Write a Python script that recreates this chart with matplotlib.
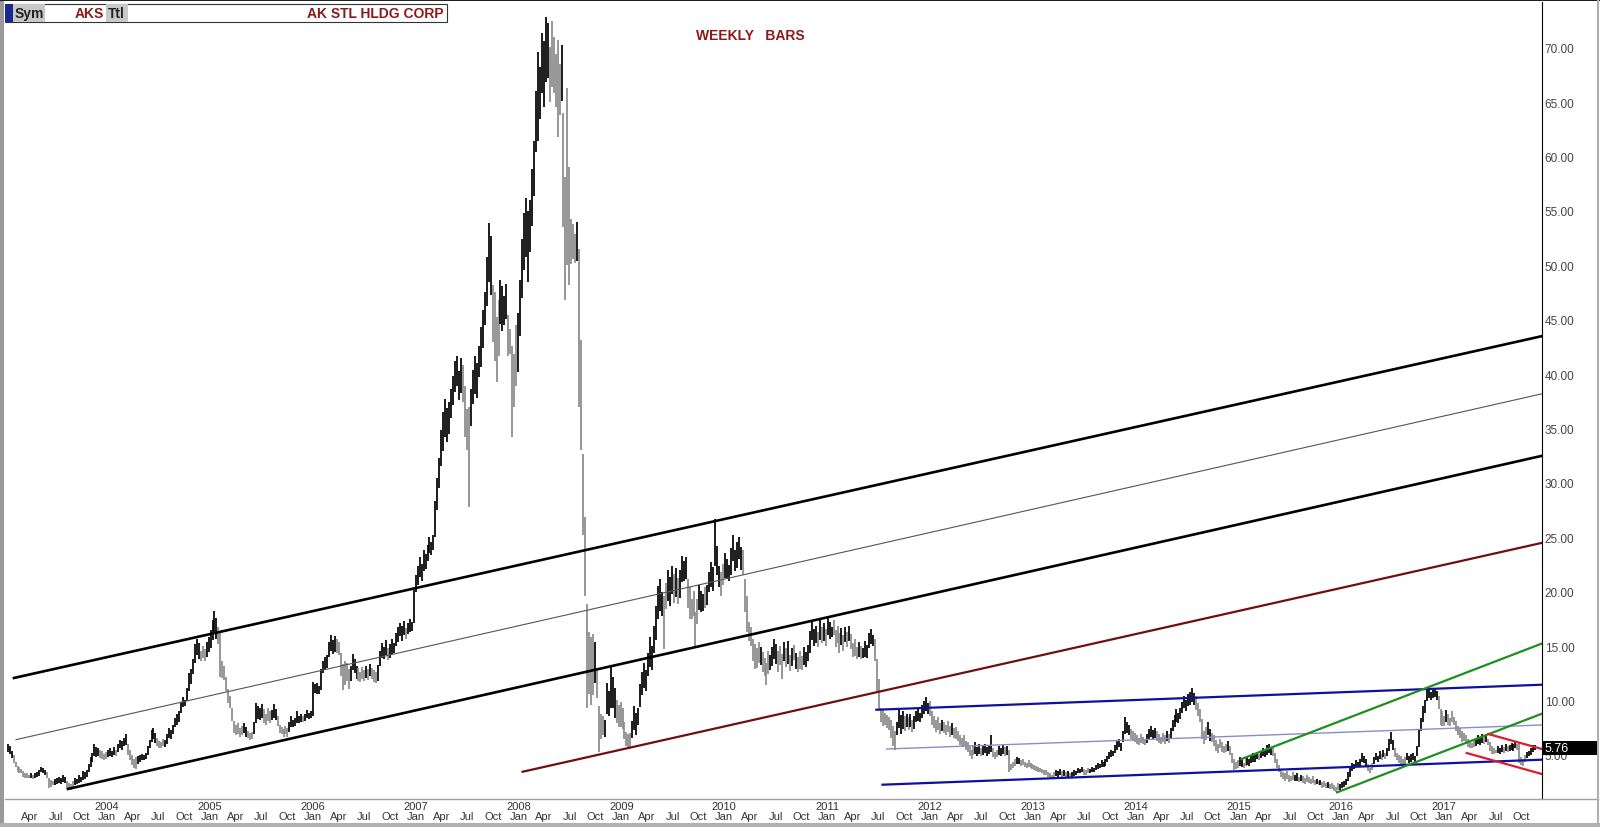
import numpy as np
import pandas as pd
import matplotlib
matplotlib.use('Agg')
import matplotlib.pyplot as plt
from matplotlib.patches import Rectangle
from matplotlib.lines import Line2D

# 주간 고가 / 저가
hi_2003 = [6.0, 5.8, 5.4, 5.0, 4.4, 4.0, 3.9, 3.7, 3.5, 3.3, 3.3, 3.2, 3.3, 3.2, 3.3, 3.4, 3.6, 3.9, 3.8, 3.6,
           3.4, 2.9, 2.7, 2.6, 2.8, 2.9, 3.0, 2.9, 3.2, 3.0, 2.6, 2.4, 2.3, 2.6, 2.9, 2.8, 3.2, 3.0, 3.5, 3.4,
           3.6, 4.2, 4.8, 5.2, 6.0, 5.7, 5.6, 5.5, 5.4, 5.1]
lo_2003 = [5.3, 5.1, 4.7, 4.3, 3.9, 3.4, 3.3, 3.3, 3.0, 2.9, 2.9, 2.9, 2.9, 2.8, 2.9, 3.0, 3.1, 3.4, 3.3, 3.2,
           2.9, 2.0, 2.1, 2.2, 2.2, 2.3, 2.4, 2.3, 2.5, 2.4, 2.0, 1.8, 1.8, 1.9, 2.2, 2.3, 2.4, 2.5, 2.7, 2.8,
           3.0, 3.4, 3.9, 4.4, 4.9, 4.8, 4.9, 4.7, 4.6, 4.5]
hi_2004 = [5.3, 5.5, 5.6, 5.4, 5.7, 5.5, 6.0, 6.4, 6.3, 6.6, 6.9, 6.0, 5.5, 5.0, 4.6, 4.8, 4.9, 5.0, 5.1, 5.0,
           5.2, 5.8, 6.4, 7.3, 7.5, 7.0, 6.6, 6.3, 6.2, 6.5, 6.4, 6.9, 7.5, 7.3, 7.8, 8.4, 8.8, 9.0, 9.9, 10.3,
           10.1, 11.2, 12.5, 12.9, 13.8, 15.2, 15.7, 15.3, 14.6, 15.0, 14.7, 15.4, 15.8]
lo_2004 = [4.6, 4.8, 4.9, 4.8, 5.0, 4.9, 5.3, 5.6, 5.5, 5.8, 5.9, 5.0, 4.5, 4.1, 3.8, 3.7, 4.2, 4.4, 4.5, 4.5,
           4.6, 5.0, 5.6, 6.2, 6.5, 6.1, 5.8, 5.6, 5.6, 5.8, 5.7, 6.0, 6.6, 6.5, 6.9, 7.6, 7.8, 8.0, 8.9, 9.4,
           9.5, 10.0, 10.9, 11.5, 12.4, 13.5, 14.2, 13.8, 13.6, 13.9, 13.6, 14.0, 14.5]
hi_2005 = [16.5, 17.4, 18.2, 17.6, 16.8, 16.3, 13.6, 13.2, 12.2, 11.1, 10.4, 9.3, 8.1, 7.8, 7.9, 7.5, 7.7, 7.9,
           7.6, 7.2, 7.0, 7.1, 8.0, 9.8, 9.5, 9.3, 9.7, 9.2, 8.8, 9.3, 9.0, 9.1, 9.7, 9.2, 8.6, 7.8, 7.6, 7.4,
           7.7, 7.5, 8.0, 8.6, 8.2, 8.4, 9.0, 8.6, 8.8, 8.6, 8.8, 9.1, 8.9, 9.0]
lo_2005 = [14.8, 15.6, 16.2, 15.7, 15.2, 12.2, 12.1, 11.9, 10.9, 9.8, 9.3, 8.1, 7.0, 6.8, 6.9, 6.7, 6.8, 7.0,
           6.7, 6.6, 6.4, 6.5, 6.9, 7.9, 8.3, 8.2, 8.4, 7.9, 7.8, 8.1, 7.9, 8.2, 8.4, 8.2, 7.7, 7.0, 6.9, 6.7,
           6.9, 6.7, 7.1, 7.6, 7.6, 7.7, 7.9, 7.9, 8.0, 8.0, 8.1, 8.4, 8.3, 8.4]
hi_2006 = [11.7, 11.5, 11.6, 11.3, 12.9, 13.6, 14.0, 14.2, 15.4, 16.0, 15.6, 15.9, 15.7, 15.4, 14.4, 13.4, 13.6,
           13.5, 12.9, 13.2, 14.3, 13.8, 13.2, 13.0, 12.6, 13.1, 12.8, 13.2, 12.9, 13.4, 13.0, 12.8, 12.6, 13.3,
           14.6, 15.3, 14.9, 15.6, 14.8, 15.2, 15.7, 15.3, 16.2, 16.8, 17.1, 16.9, 17.3, 16.7, 17.1, 17.5, 17.2, 20.2]
lo_2006 = [8.6, 10.7, 10.6, 10.6, 11.0, 12.5, 12.8, 13.0, 14.0, 14.6, 14.3, 14.5, 14.4, 14.2, 12.3, 11.0, 11.4,
           11.8, 11.1, 11.8, 12.8, 12.5, 12.0, 11.8, 11.7, 12.0, 11.8, 12.1, 11.9, 12.3, 12.0, 11.7, 11.6, 11.8,
           13.2, 13.9, 13.8, 14.2, 13.7, 13.9, 14.3, 14.4, 15.0, 15.4, 15.9, 15.5, 16.0, 15.7, 16.1, 16.3, 16.4, 17.1]
hi_2007 = [21.5, 22.4, 23.2, 22.6, 23.8, 23.5, 24.3, 25.0, 24.6, 25.2, 28.3, 30.5, 32.3, 34.9, 36.5, 37.7, 36.9,
           37.4, 38.6, 39.8, 41.2, 41.7, 40.3, 41.5, 40.8, 38.9, 36.8, 37.0, 38.6, 40.4, 41.7, 41.0, 42.6, 44.3,
           45.9, 47.6, 50.8, 53.9, 52.7, 48.2, 47.6, 45.3, 46.8, 48.7, 48.1, 47.2, 48.3, 45.4, 44.2, 42.6, 41.9, 44.5]
lo_2007 = [20.0, 20.6, 21.4, 21.0, 21.9, 22.1, 22.8, 23.6, 23.4, 23.8, 25.0, 27.5, 29.5, 31.6, 32.9, 34.2, 33.8,
           34.5, 36.0, 37.2, 38.4, 38.9, 37.6, 38.3, 37.4, 34.2, 33.0, 27.8, 35.2, 37.3, 38.2, 37.8, 39.7, 40.7,
           42.4, 44.5, 46.3, 48.5, 47.3, 43.0, 41.2, 39.3, 41.7, 44.6, 44.0, 44.5, 45.1, 41.7, 41.9, 34.2, 37.0, 38.9]
hi_2008 = [45.6, 48.7, 52.4, 54.8, 56.2, 55.0, 56.0, 58.9, 61.4, 66.0, 69.6, 68.2, 71.4, 70.6, 72.8, 72.3, 70.1,
           72.5, 71.0, 69.4, 70.7, 68.5, 70.3, 64.0, 58.1, 66.3, 59.0, 54.3, 53.8, 52.9, 54.0, 51.5, 43.1, 32.7,
           26.9, 18.9, 16.3, 15.8, 16.1, 15.4, 13.0, 9.5, 8.8, 8.6, 8.2, 11.6, 10.9, 13.1, 12.2, 11.2, 10.1, 9.6]
lo_2008 = [40.2, 43.5, 47.0, 49.6, 50.8, 48.5, 51.2, 53.6, 56.4, 60.4, 61.4, 63.5, 65.8, 64.6, 66.9, 67.2, 65.0,
           66.4, 65.8, 64.6, 61.8, 63.8, 65.1, 53.5, 46.8, 50.0, 48.2, 50.1, 50.6, 50.2, 50.4, 37.0, 33.0, 25.2,
           19.6, 9.3, 10.6, 9.6, 10.5, 11.6, 10.2, 5.3, 6.5, 6.8, 6.7, 8.8, 8.6, 9.3, 9.3, 8.4, 7.9, 7.6]
hi_2009 = [9.9, 9.3, 8.0, 7.1, 6.9, 7.0, 8.1, 9.5, 8.9, 9.3, 11.5, 12.6, 13.5, 12.8, 14.4, 15.8, 15.0, 16.9, 18.7,
           20.5, 21.2, 20.0, 19.6, 20.8, 22.0, 21.4, 22.4, 21.6, 22.2, 21.3, 22.0, 23.3, 22.8, 23.2, 21.2, 20.4,
           19.3, 20.1, 18.1, 19.3, 20.6, 20.1, 19.8, 20.4, 20.6, 21.8, 22.7, 22.3, 26.7, 24.2, 22.4, 21.8]
lo_2009 = [7.6, 7.4, 6.5, 5.8, 5.6, 5.7, 6.6, 7.3, 6.8, 7.8, 9.4, 10.5, 11.2, 10.9, 12.3, 13.1, 12.8, 14.4, 15.6,
           17.5, 18.2, 17.8, 14.7, 18.4, 19.2, 18.7, 19.8, 19.0, 19.5, 18.9, 19.4, 20.9, 21.0, 21.2, 18.5, 17.5,
           17.5, 17.8, 15.0, 17.0, 18.3, 18.1, 18.2, 18.5, 18.8, 20.0, 20.4, 20.1, 22.4, 21.5, 20.4, 19.6]
hi_2010 = [22.6, 23.6, 23.0, 22.5, 24.0, 25.2, 23.8, 24.6, 25.0, 24.1, 23.8, 21.2, 19.6, 17.2, 16.8, 15.7, 15.2,
           14.8, 15.4, 14.9, 14.5, 13.9, 13.5, 14.6, 14.2, 14.9, 15.7, 15.2, 14.6, 15.0, 14.3, 15.4, 14.8, 15.5,
           14.2, 14.8, 15.1, 14.4, 14.0, 14.6, 14.1, 14.9, 14.5, 15.1, 16.4, 17.2, 16.6, 16.9, 16.3, 17.5, 16.8,
           17.1, 16.6]
lo_2010 = [20.6, 21.3, 21.2, 21.0, 21.5, 22.8, 21.9, 22.2, 23.0, 22.0, 21.5, 18.1, 16.3, 15.5, 15.0, 13.6, 12.9,
           13.0, 13.5, 13.3, 12.6, 12.3, 11.4, 12.4, 12.8, 13.2, 13.8, 13.4, 12.6, 13.3, 12.0, 13.6, 13.1, 13.4,
           12.7, 13.2, 13.7, 12.9, 12.6, 12.9, 12.8, 13.3, 13.1, 13.6, 14.4, 15.6, 15.0, 15.3, 14.9, 15.6, 15.3,
           15.5, 15.0]
hi_2011 = [17.6, 17.2, 16.8, 17.4, 16.5, 16.9, 16.2, 16.7, 16.0, 16.8, 16.3, 16.9, 16.1, 15.3, 15.7, 14.9, 15.4,
           15.0, 14.8, 15.5, 15.1, 16.2, 16.6, 16.0, 15.7, 13.8, 12.0, 9.3, 9.2, 8.9, 8.7, 8.5, 8.2, 7.7, 7.2,
           8.0, 9.2, 8.7, 9.0, 8.6, 8.8, 8.5, 8.8, 8.2, 8.6, 9.0, 9.2, 8.9, 9.6, 10.0, 10.3, 9.8]
lo_2011 = [16.0, 15.7, 15.8, 16.0, 14.9, 15.3, 14.4, 15.1, 14.6, 15.4, 14.9, 15.5, 14.7, 14.0, 14.1, 13.8, 14.0,
           13.8, 13.9, 14.0, 13.9, 14.8, 15.2, 15.0, 13.6, 10.8, 9.2, 8.0, 7.7, 7.8, 7.5, 7.3, 6.6, 5.8, 5.5,
           6.8, 7.5, 6.9, 7.4, 7.2, 7.6, 7.3, 7.6, 7.1, 7.4, 8.0, 8.1, 8.0, 8.4, 8.8, 9.0, 8.8]
hi_2012 = [10.0, 9.0, 8.6, 8.2, 8.5, 7.9, 8.2, 8.0, 7.8, 8.1, 7.7, 7.9, 7.5, 7.6, 7.2, 6.8, 6.6, 6.8, 6.3, 6.2,
           5.8, 5.5, 5.9, 6.2, 5.7, 6.0, 5.6, 5.8, 6.0, 5.7, 5.9, 6.8, 5.6, 5.3, 5.5, 5.8, 5.6, 5.9, 5.7, 5.8,
           5.5, 4.2, 4.4, 4.6, 4.8, 4.7, 4.5, 4.6, 4.4, 4.3, 4.5, 4.3]
lo_2012 = [8.6, 7.8, 7.5, 7.1, 7.3, 6.9, 7.2, 7.0, 6.8, 7.1, 6.7, 6.8, 6.6, 6.5, 6.3, 5.9, 5.7, 5.8, 5.5, 5.3,
           4.9, 4.6, 5.0, 5.1, 4.9, 5.1, 4.9, 5.0, 5.2, 4.9, 5.1, 5.3, 4.8, 4.6, 4.8, 5.0, 4.9, 5.1, 4.9, 5.0,
           3.4, 3.6, 3.8, 4.0, 4.2, 4.2, 4.0, 4.1, 3.9, 3.8, 3.9, 3.8]
hi_2013 = [4.2, 4.1, 4.0, 3.9, 3.8, 3.7, 3.6, 3.6, 3.4, 3.3, 3.2, 3.4, 3.6, 3.5, 3.7, 3.5, 3.6, 3.4, 3.5, 3.3,
           3.4, 3.6, 3.5, 3.8, 3.7, 3.9, 3.7, 3.6, 3.8, 3.7, 3.9, 3.8, 4.1, 4.3, 4.2, 4.5, 4.4, 4.6, 4.9, 5.3,
           5.5, 5.4, 5.9, 6.3, 6.5, 6.1, 7.2, 8.5, 8.0, 7.8, 7.4, 7.2]
lo_2013 = [3.7, 3.6, 3.5, 3.4, 3.4, 3.3, 3.2, 3.2, 3.0, 2.9, 2.8, 2.9, 3.1, 3.0, 3.2, 3.0, 3.1, 3.0, 3.0, 2.9,
           3.0, 3.1, 3.2, 3.3, 3.3, 3.4, 3.2, 3.2, 3.3, 3.3, 3.4, 3.4, 3.6, 3.7, 3.8, 3.9, 3.9, 4.0, 4.4, 4.6,
           4.8, 4.9, 5.2, 5.5, 5.7, 5.4, 6.2, 6.9, 7.0, 6.8, 6.5, 6.3]
hi_2014 = [7.0, 6.8, 6.6, 6.9, 6.7, 6.5, 6.9, 7.4, 7.7, 7.3, 7.5, 7.2, 6.9, 6.7, 7.0, 6.8, 7.2, 6.9, 7.5, 8.2,
           8.7, 9.2, 8.9, 9.3, 9.9, 10.4, 10.1, 10.6, 10.8, 11.2, 10.7, 10.4, 9.8, 9.2, 8.3, 7.2, 7.6, 8.0, 7.4,
           7.0, 6.8, 6.4, 6.0, 6.5, 6.2, 5.8, 6.0, 6.3, 5.8, 5.2, 4.6, 4.4]
lo_2014 = [6.2, 6.0, 5.9, 6.1, 6.0, 5.9, 6.1, 6.5, 6.7, 6.5, 6.6, 6.3, 6.1, 6.0, 6.2, 6.0, 6.3, 6.1, 6.6, 7.2,
           7.6, 8.0, 7.9, 8.3, 8.9, 9.3, 9.0, 9.5, 9.6, 9.9, 9.6, 9.1, 8.6, 8.0, 6.5, 6.0, 6.4, 6.8, 6.3,
           6.2, 5.8, 5.4, 5.2, 5.6, 5.3, 5.2, 5.3, 5.4, 5.0, 4.3, 3.6, 3.7]
hi_2015 = [4.5, 4.8, 4.6, 4.3, 4.7, 4.9, 4.6, 4.9, 5.2, 5.0, 5.3, 5.1, 5.4, 5.6, 5.5, 5.9, 6.0, 5.7, 5.8, 5.2,
           4.6, 4.1, 3.6, 3.4, 3.3, 3.5, 3.2, 3.1, 3.4, 3.2, 3.3, 3.0, 3.2, 3.1, 2.9, 3.2, 3.0, 2.8, 3.1, 2.7,
           2.8, 2.6, 2.7, 2.5, 2.6, 2.4, 2.5, 2.3, 2.4, 2.2, 2.1, 2.4]
lo_2015 = [3.8, 4.0, 3.9, 3.8, 4.0, 4.1, 4.0, 4.3, 4.4, 4.4, 4.6, 4.5, 4.7, 4.9, 4.8, 5.0, 5.2, 5.0, 4.9, 4.3,
           3.8, 3.4, 3.0, 2.8, 2.6, 2.8, 2.5, 2.6, 2.7, 2.6, 2.6, 2.5, 2.6, 2.4, 2.3, 2.5, 2.4, 2.3, 2.4, 2.2,
           2.3, 2.2, 2.2, 2.0, 2.1, 2.0, 2.0, 1.9, 1.9, 1.7, 1.6, 1.8]
hi_2016 = [2.3, 2.5, 2.6, 2.8, 3.4, 3.9, 4.3, 4.2, 4.5, 4.4, 4.6, 5.2, 4.9, 4.6, 4.2, 3.8, 4.3, 4.8, 5.2, 4.9,
           5.4, 5.1, 5.5, 5.2, 5.6, 6.5, 7.1, 6.4, 5.6, 5.2, 5.0, 4.9, 4.6, 4.8, 5.2, 4.9, 5.1, 5.2, 4.9, 5.8,
           7.4, 8.4, 9.5, 10.1, 11.0, 11.2, 10.8, 11.0, 11.1, 10.9, 10.4, 9.2, 9.0]
lo_2016 = [1.8, 2.0, 2.1, 2.2, 2.6, 3.0, 3.5, 3.7, 3.9, 3.9, 4.0, 4.4, 4.3, 4.0, 3.5, 3.3, 3.6, 4.2, 4.5, 4.4,
           4.6, 4.5, 4.8, 4.6, 4.9, 5.4, 6.0, 5.5, 4.8, 4.5, 4.3, 4.1, 4.0, 4.2, 4.5, 4.3, 4.4, 4.5, 4.4, 4.9,
           5.7, 7.2, 8.0, 8.9, 10.0, 10.2, 10.1, 10.2, 10.3, 10.1, 9.2, 7.8, 7.7]
hi_2017 = [8.6, 9.1, 8.8, 8.4, 9.0, 8.5, 8.1, 7.7, 7.5, 7.2, 7.0, 6.8, 6.5, 6.3, 6.1, 6.4, 6.5, 6.8, 6.6, 6.9,
           6.7, 6.9, 6.5, 6.2, 5.8, 5.6, 5.5, 5.8, 5.6, 5.9, 5.7, 6.0, 5.8, 5.9, 6.1, 6.0, 6.2, 6.0, 6.1, 4.8,
           4.6, 5.0, 5.3, 5.4, 5.6, 5.9, 5.9]
lo_2017 = [7.7, 8.0, 7.8, 7.7, 8.0, 7.8, 7.2, 6.8, 6.6, 6.2, 6.3, 6.0, 5.7, 5.6, 5.6, 5.7, 5.8, 6.0, 5.9, 6.1,
           6.0, 6.2, 5.9, 5.4, 5.1, 5.1, 5.2, 5.2, 5.1, 5.3, 5.2, 5.4, 5.3, 5.4, 5.5, 5.4, 5.6, 5.5, 4.3, 4.1,
           4.0, 4.4, 4.7, 4.9, 5.0, 5.3, 5.5]

years = list(range(2003, 2018))
highs = [hi_2003, hi_2004, hi_2005, hi_2006, hi_2007, hi_2008, hi_2009, hi_2010,
         hi_2011, hi_2012, hi_2013, hi_2014, hi_2015, hi_2016, hi_2017]
lows = [lo_2003, lo_2004, lo_2005, lo_2006, lo_2007, lo_2008, lo_2009, lo_2010,
        lo_2011, lo_2012, lo_2013, lo_2014, lo_2015, lo_2016, lo_2017]
last_price = 5.76

# 추세선 (연도, 가격) 양 끝점
ch_upper_t, ch_upper_p = [2003.105, 2017.962], [12.08, 43.5]
ch_mid_t, ch_mid_p = [2003.125, 2017.962], [6.41, 38.2]
ch_lower_t, ch_lower_p = [2003.63, 2017.962], [1.88, 32.5]
maroon_t, maroon_p = [2008.05, 2017.962], [3.46, 24.5]
blue_up_t, blue_up_p = [2011.49, 2017.962], [9.16, 11.46]
blue_mid_t, blue_mid_p = [2011.59, 2017.962], [5.55, 7.76]
blue_lo_t, blue_lo_p = [2011.55, 2017.962], [2.27, 4.57]
green_up_t, green_up_p = [2015.04, 2017.962], [4.63, 15.25]
green_lo_t, green_lo_p = [2015.97, 2017.962], [1.57, 8.8]
red_up_t, red_up_p = [2017.44, 2017.962], [6.93, 5.55]
red_lo_t, red_lo_p = [2017.23, 2017.962], [5.18, 3.25]

month_names = {1: 'Jan', 4: 'Apr', 7: 'Jul', 10: 'Oct'}

W, H = 1600, 828
PX_PER_YEAR = 102.85
X_2004 = 106.0


def px_to_year(px):
    return 2004 + (px - X_2004) / PX_PER_YEAR


def px_to_price(py):
    return 5 + (756 - py) / 10.88


def fx(px):
    return px / W


def fy(py):
    return 1 - py / H


def weekly_frame():
    rows = []
    for yr, h, l in zip(years, highs, lows):
        start = '2003-01-17' if yr == 2003 else f'{yr}-01-01'
        fridays = pd.date_range(start, f'{yr}-12-31', freq='W-FRI')
        n = min(len(h), len(l), len(fridays))
        for d, hv, lv in zip(fridays[:n], h[:n], l[:n]):
            ndays = 366 if d.is_leap_year else 365
            rows.append((yr + (d.dayofyear - 1) / ndays, hv, lv))
    return pd.DataFrame(rows, columns=['t', 'high', 'low'])


def main():
    plt.rcParams['font.family'] = ['Liberation Sans', 'DejaVu Sans']
    df = weekly_frame()

    fig = plt.figure(figsize=(W / 100, H / 100), dpi=100)
    fig.patch.set_facecolor('white')
    ax = fig.add_axes([fx(5), fy(800), fx(1542) - fx(5), fy(3) - fy(800)])
    ax.set_xlim(px_to_year(5), px_to_year(1542))
    ax.set_ylim(px_to_price(800), px_to_price(3))

    # 막대 색: 상승 구간 검정, 하락 구간 회색
    mid = (df['high'] + df['low']) / 2
    rising = mid >= mid.shift(3).fillna(mid)
    cols = np.where(rising, '#000000', '#8a8a8a')
    ax.vlines(df['t'], df['low'], df['high'], colors=cols, linewidth=1.25)

    # 추세선
    ax.plot(ch_upper_t, ch_upper_p, color='black', lw=1.9)
    ax.plot(ch_mid_t, ch_mid_p, color='#555555', lw=0.8)
    ax.plot(ch_lower_t, ch_lower_p, color='black', lw=1.9)
    ax.plot(maroon_t, maroon_p, color='#6e1010', lw=1.6)
    ax.plot(blue_up_t, blue_up_p, color='#1010a0', lw=1.6)
    ax.plot(blue_mid_t, blue_mid_p, color='#8c8cc4', lw=1.0)
    ax.plot(blue_lo_t, blue_lo_p, color='#1010a0', lw=1.6)
    ax.plot(green_up_t, green_up_p, color='#1f8f1f', lw=1.6)
    ax.plot(green_lo_t, green_lo_p, color='#1f8f1f', lw=1.6)
    ax.plot(red_up_t, red_up_p, color='#d81e2e', lw=1.6)
    ax.plot(red_lo_t, red_lo_p, color='#d81e2e', lw=1.6)

    # 오른쪽 가격 축
    for s in ['left', 'top', 'bottom']:
        ax.spines[s].set_visible(False)
    ax.spines['right'].set_color('black')
    ax.spines['right'].set_linewidth(0.8)
    ax.yaxis.tick_right()
    yt = list(range(5, 75, 5))
    ax.set_yticks(yt)
    ax.set_yticklabels([f'{v:.2f}' for v in yt])
    ax.tick_params(axis='y', length=0, pad=2, labelsize=8.5, labelcolor='#444444')
    ax.set_xticks([])

    # 마지막 가격 박스 (5.00 라벨 위를 덮음)
    fig.patches.append(Rectangle((fx(1543), fy(756)), fx(1597) - fx(1543), fy(742) - fy(756),
                                 transform=fig.transFigure, facecolor='black', edgecolor='none', zorder=5))
    fig.text(fx(1545), fy(749), f'{last_price:.2f}', color='white', fontsize=9,
             ha='left', va='center', zorder=6)

    # x 축 날짜 라벨
    for yr in range(2003, 2018):
        for m, name in month_names.items():
            t = yr + (m - 1) / 12 + 0.01
            px = X_2004 + (t - 2004) * PX_PER_YEAR
            if px < 15 or px > 1535:
                continue
            fig.text(fx(px), fy(817), name, fontsize=8, color='#333333', ha='center', va='center')
            if m == 1:
                fig.text(fx(px), fy(807), str(yr), fontsize=8, color='#333333', ha='center', va='center')

    # 창 테두리
    fig.add_artist(Line2D([fx(5), fx(1598)], [fy(800), fy(800)], color='#a0a0a0', lw=1.0))
    fig.patches.append(Rectangle((0, 0), fx(4), 1, transform=fig.transFigure,
                                 facecolor='#9a9a9a', edgecolor='none'))
    fig.patches.append(Rectangle((0, fy(2)), 1, fx(2) * W / H, transform=fig.transFigure,
                                 facecolor='#202020', edgecolor='none'))
    fig.patches.append(Rectangle((0, 0), 1, fy(824), transform=fig.transFigure,
                                 facecolor='#b0b0b0', edgecolor='none'))
    fig.add_artist(Line2D([fx(1598), fx(1598)], [0, 1], color='#b0b0b0', lw=1.5))

    # 헤더 박스
    fig.patches.append(Rectangle((fx(5), fy(23)), fx(447) - fx(5), fy(5) - fy(23), transform=fig.transFigure,
                                 facecolor='white', edgecolor='#333333', lw=0.8, zorder=3))
    fig.patches.append(Rectangle((fx(5), fy(23)), fx(13) - fx(5), fy(5) - fy(23), transform=fig.transFigure,
                                 facecolor='#1a2a8a', edgecolor='none', zorder=4))
    fig.patches.append(Rectangle((fx(13), fy(23)), fx(45) - fx(13), fy(5) - fy(23), transform=fig.transFigure,
                                 facecolor='#c8c8c8', edgecolor='none', zorder=4))
    fig.patches.append(Rectangle((fx(106), fy(23)), fx(128) - fx(106), fy(5) - fy(23), transform=fig.transFigure,
                                 facecolor='#c8c8c8', edgecolor='none', zorder=4))
    fig.text(fx(15), fy(14), 'Sym', fontsize=10, fontweight='bold', color='#222222', va='center', zorder=5)
    fig.text(fx(104), fy(14), 'AKS', fontsize=10, fontweight='bold', color='#8b1a1a',
             ha='right', va='center', zorder=5)
    fig.text(fx(108), fy(14), 'Ttl', fontsize=10, fontweight='bold', color='#222222', va='center', zorder=5)
    fig.text(fx(444), fy(14), 'AK STL HLDG CORP', fontsize=10, fontweight='bold', color='#8b1a1a',
             ha='right', va='center', zorder=5)

    fig.text(fx(750), fy(36), 'WEEKLY   BARS', fontsize=10, fontweight='bold', color='#8b1a1a',
             ha='center', va='center')

    fig.savefig('out.png', dpi=100)


if __name__ == "__main__":
    main()
